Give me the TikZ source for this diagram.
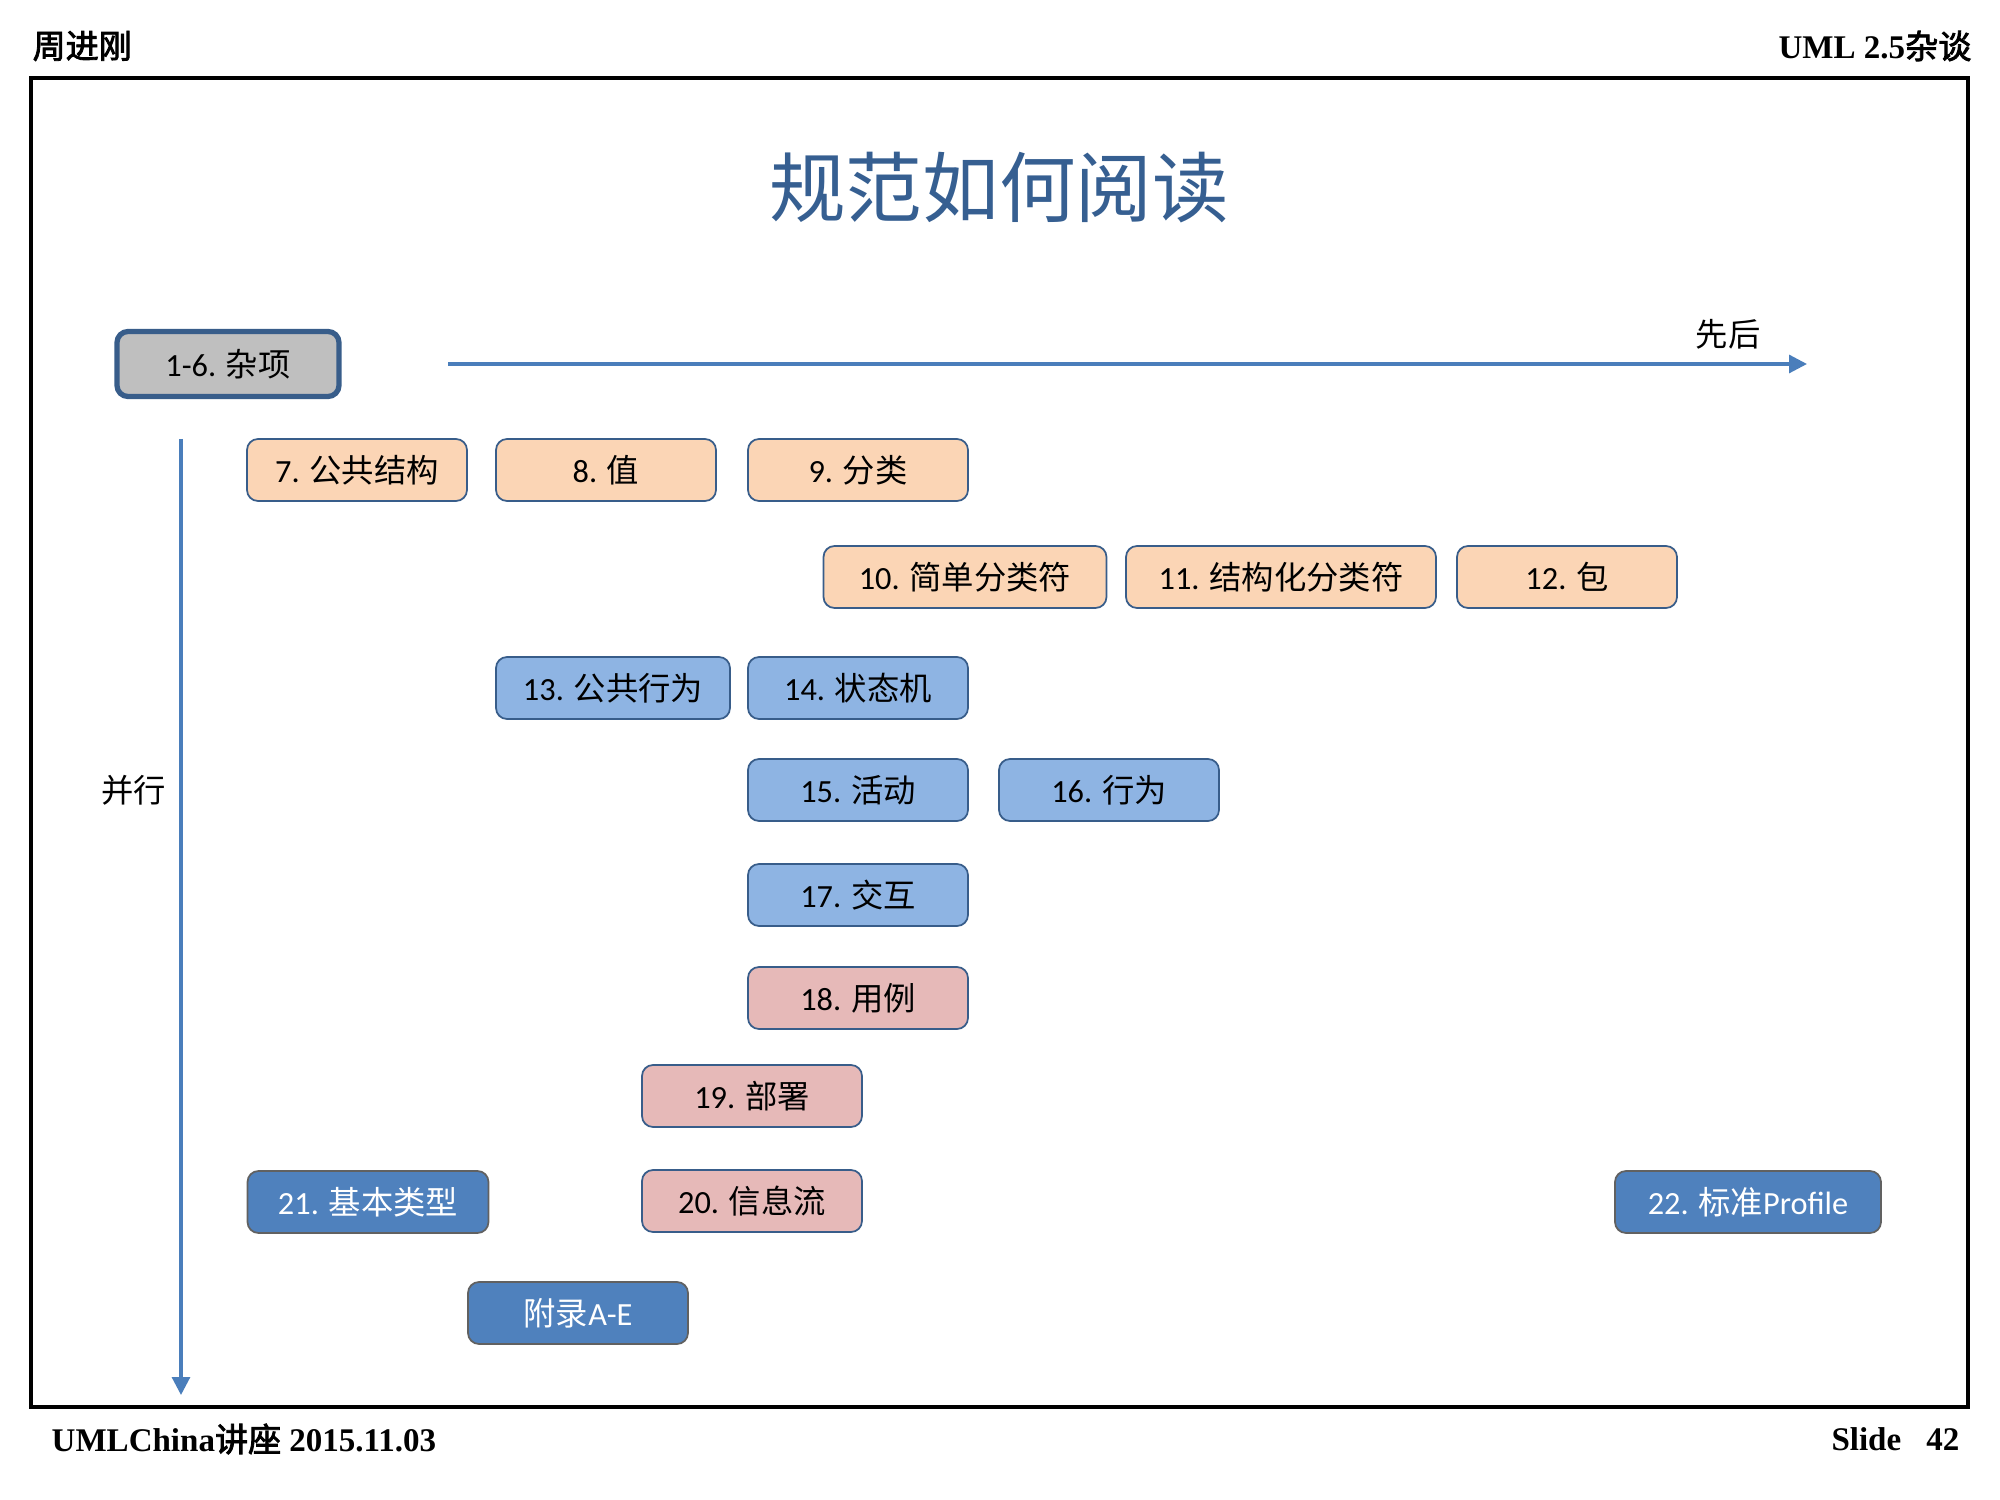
\documentclass[tikz,border=0pt]{standalone}
\usepackage{fontspec}
\setmainfont{Carlito}
\newfontfamily\cjk{Noto Sans CJK SC}[AutoFakeBold=2.5]
\newfontfamily\hdfont{Liberation Serif}
\usetikzlibrary{arrows.meta}

\definecolor{boxline}{HTML}{385D8A}
\definecolor{peachfill}{HTML}{FBD5B5}
\definecolor{lbluefill}{HTML}{8EB4E3}
\definecolor{pinkfill}{HTML}{E6B9B8}
\definecolor{dbluefill}{HTML}{4F81BD}
\definecolor{axisblue}{HTML}{4A7EBB}
\definecolor{titleblue}{HTML}{365F91}

\newcommand\zh[1]{{\cjk #1}}

\begin{document}
\begin{tikzpicture}[x=0.1mm, y=-0.1mm,
  sec/.style={draw=boxline, line width=0.5pt, rounded corners=1.1mm,
    minimum width=22mm, minimum height=6.2mm, inner sep=0pt,
    font=\fontsize{9.2}{11}\selectfont},
  secpeach/.style={sec, fill=peachfill},
  secblue/.style={sec, fill=lbluefill},
  secpink/.style={sec, fill=pinkfill},
  secdark/.style={sec, draw=black!62, fill=dbluefill, text=white},
  hdtext/.style={inner sep=0pt, font=\hdfont\bfseries\fontsize{9.4}{11}\selectfont},
  axis/.style={draw=axisblue, line width=0.9pt, -{Triangle[length=1.8mm, width=1.8mm]}}]

\useasboundingbox (0,0) rectangle (2000,1500);

% Page header and footer
\node[hdtext, anchor=west] (author) at (32,46) {\zh{周进刚}};
\node[hdtext, anchor=east] (course) at (1972,46) {UML 2.5\zh{杂谈}};
\node[hdtext, anchor=west] (lecture) at (51,1439) {UMLChina\zh{讲座} 2015.11.03};
\node[hdtext, anchor=east] (slideno) at (1960,1439) {Slide\hspace{2.5mm}42};
\draw[line width=1pt] (31,78) rectangle (1968,1407);

% Title
\node[font=\cjk\fontsize{21.8}{24}\selectfont, text=titleblue] (title) at (999,188) {规范如何阅读};

% Misc chapters
\node[sec, fill=black!25, line width=1.5pt, minimum width=22.2mm, minimum height=6.5mm] (misc) at (228,364) {1-6. \zh{杂项}};

% Axes
\coordinate (hstart) at (448,364);
\coordinate (hend) at (1807,364);
\coordinate (vstart) at (181,439);
\coordinate (vend) at (181,1395);
\draw[axis] (hstart) -- (hend);
\draw[axis] (vstart) -- (vend);
\node[font=\cjk\fontsize{9.2}{11}\selectfont] (order) at (1728,334) {先后};
\node[font=\cjk\fontsize{9.2}{11}\selectfont] (parallel) at (134,790) {并行};

% Structure
\node[secpeach] (c7) at (357,470) {7. \zh{公共结构}};
\node[secpeach] (c8) at (606,470) {8. \zh{值}};
\node[secpeach] (c9) at (858,470) {9. \zh{分类}};
\node[secpeach, minimum width=28.3mm] (c10) at (965,577) {10. \zh{简单分类符}};
\node[secpeach, minimum width=31mm] (c11) at (1281,577) {11. \zh{结构化分类符}};
\node[secpeach] (c12) at (1567,577) {12. \zh{包}};

% Behavior
\node[secblue, minimum width=23.4mm] (c13) at (613,688) {13. \zh{公共行为}};
\node[secblue] (c14) at (858,688) {14. \zh{状态机}};
\node[secblue] (c15) at (858,790) {15. \zh{活动}};
\node[secblue] (c16) at (1109,790) {16. \zh{行为}};
\node[secblue] (c17) at (858,895) {17. \zh{交互}};

% Supplement
\node[secpink] (c18) at (858,998) {18. \zh{用例}};
\node[secpink] (c19) at (752,1096) {19. \zh{部署}};
\node[secpink] (c20) at (752,1201) {20. \zh{信息流}};

% Types, profiles and annexes
\node[secdark, minimum width=24.1mm] (c21) at (368,1202) {21. \zh{基本类型}};
\node[secdark, minimum width=26.6mm] (c22) at (1748,1202) {22. \zh{标准}Profile};
\node[secdark] (annex) at (578,1313) {\zh{附录}A-E};

\end{tikzpicture}
\end{document}
